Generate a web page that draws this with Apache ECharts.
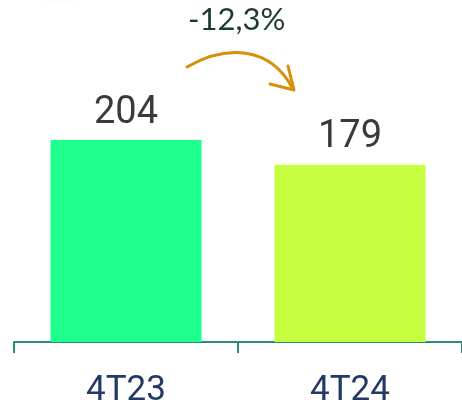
<!DOCTYPE html>
<html><head><meta charset="utf-8">
<script src="https://cdn.jsdelivr.net/npm/echarts@6/dist/echarts.min.js"></script>
<style>html,body{margin:0;padding:0;background:#fff}#c{width:462px;height:410px}</style>
</head><body><div id="c"></div>
<script>
const categories = ['4T23', '4T24'];
const values = [204, 179];
const barColors = ['#1EFF8E', '#C6FF40'];
const changeLabel = '-12,3%';

const chart = echarts.init(document.getElementById('c'));
chart.setOption({
  animation: false,
  grid: {left: 14, right: -2, top: 45, bottom: 68, containLabel: false},
  xAxis: {
    type: 'category', data: categories,
    axisLine: {show: true, lineStyle: {color: '#2A8C7A', width: 2}},
    axisTick: {show: true, alignWithLabel: false, interval: 0, length: 11, lineStyle: {color: '#2A8C7A', width: 2}},
    axisLabel: {color: '#243A66', fontSize: 35, fontFamily: 'Roboto', margin: 32}
  },
  yAxis: {type: 'value', min: 0, max: 300, show: false, splitLine: {show: false}},
  series: [{
    type: 'bar', barWidth: 151,
    data: values.map((v, i) => ({value: v, itemStyle: {color: barColors[i]}})),
    label: {show: true, position: 'top', distance: 8, color: '#3A3A3A', fontSize: 38, fontFamily: 'Roboto'}
  }],
  graphic: [
    {type: 'ellipse', shape: {cx: 60, cy: -14, rx: 22, ry: 10},
      style: {fill: '#fff', shadowBlur: 10, shadowColor: 'rgba(0,0,0,0.15)'}},
    {type: 'text', left: 188, top: 4, style: {text: changeLabel, fontSize: 31, fontFamily: 'Lato', fill: '#1C3A2E'}},
    {type: 'bezierCurve', shape: {x1: 187, y1: 67, cpx1: 225, cpy1: 45, cpx2: 270, cpy2: 45, x2: 293, y2: 89},
      style: {stroke: '#D4900A', lineWidth: 3, fill: 'none', lineCap: 'round'}},
    {type: 'polyline', shape: {points: [[270, 84], [294, 90], [288, 66]]},
      style: {stroke: '#D4900A', lineWidth: 3, fill: 'none', lineCap: 'round', lineJoin: 'round'}}
  ]
});
</script></body></html>
